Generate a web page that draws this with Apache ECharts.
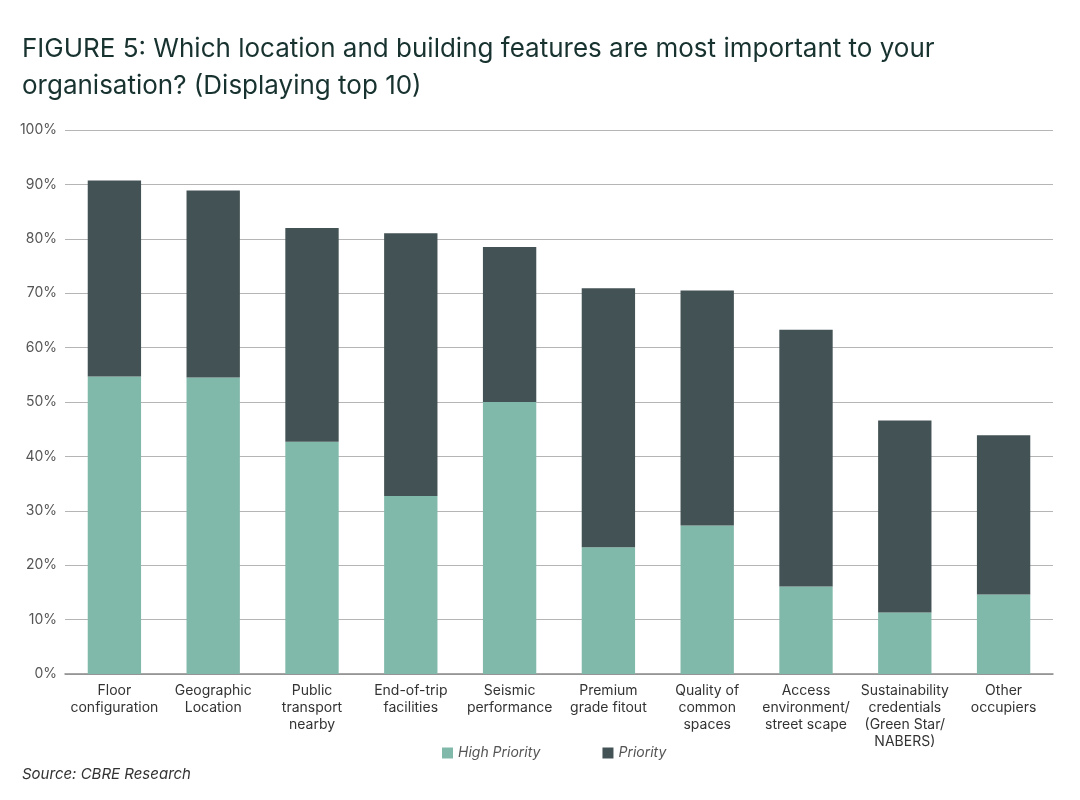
<!DOCTYPE html>
<html>
<head>
<meta charset="utf-8">
<script src="https://cdn.jsdelivr.net/npm/echarts@6/dist/echarts.min.js"></script>
<style>
html,body{margin:0;padding:0;background:#fff;}
#chart{width:1080px;height:800px;}
</style>
</head>
<body>
<div id="chart"></div>
<script>
const categories = [
  "Floor\nconfiguration",
  "Geographic\nLocation",
  "Public\ntransport\nnearby",
  "End-of-trip\nfacilities",
  "Seismic\nperformance",
  "Premium\ngrade fitout",
  "Quality of\ncommon\nspaces",
  "Access\nenvironment/\nstreet scape",
  "Sustainability\ncredentials\n(Green Star/\nNABERS)",
  "Other\noccupiers"
];
const highPriority = [54.7, 54.5, 42.7, 32.7, 50.0, 23.3, 27.3, 16.1, 11.3, 14.6];
const priority = [36.0, 34.4, 39.3, 48.3, 28.5, 47.6, 43.2, 47.2, 35.3, 29.3];
const yTicks = [0, 10, 20, 30, 40, 50, 60, 70, 80, 90, 100];

const FONT = "Inter, 'Open Sans', sans-serif";
const chart = echarts.init(document.getElementById('chart'), null, {renderer: 'canvas'});
chart.setOption({
  backgroundColor: '#ffffff',
  animation: false,
  title: {
    text: 'FIGURE 5: Which location and building features are most important to your\norganisation? (Displaying top 10)',
    left: 22, top: 31, padding: 0,
    textStyle: {fontFamily: FONT, fontSize: 26, fontWeight: 'normal', color: '#17322f', lineHeight: 37}
  },
  graphic: [{
    type: 'text', left: 22, top: 767,
    style: {text: 'Source: CBRE Research', font: 'italic 15px ' + FONT, fill: '#333'}
  }],
  legend: {
    data: ['High Priority', 'Priority'],
    left: 437, top: 741,
    itemWidth: 11, itemHeight: 11, itemGap: 62,
    icon: 'rect',
    textStyle: {fontFamily: FONT, fontSize: 14, fontStyle: 'italic', color: '#555'}
  },
  grid: {left: 65, right: 27, top: 130, bottom: 126, containLabel: false},
  xAxis: {
    type: 'category',
    data: categories,
    axisTick: {show: false},
    axisLine: {lineStyle: {color: '#8a8a8a', width: 1.5}},
    axisLabel: {interval: 0, fontFamily: FONT, fontSize: 14, color: '#333', lineHeight: 17, margin: 8}
  },
  yAxis: {
    type: 'value', min: 0, max: 100, interval: 10,
    axisLabel: {formatter: v => yTicks.includes(v) ? v + '%' : '', fontFamily: FONT, fontSize: 14, color: '#555', margin: 8},
    splitLine: {lineStyle: {color: '#b5b5b5', width: 1}},
    axisLine: {show: false}, axisTick: {show: false}
  },
  series: [
    {name: 'High Priority', type: 'bar', stack: 'a', data: highPriority, barCategoryGap: '46%', itemStyle: {color: '#80b9aa'}},
    {name: 'Priority', type: 'bar', stack: 'a', data: priority, barCategoryGap: '46%', itemStyle: {color: '#435254'}}
  ]
});
</script>
</body>
</html>
